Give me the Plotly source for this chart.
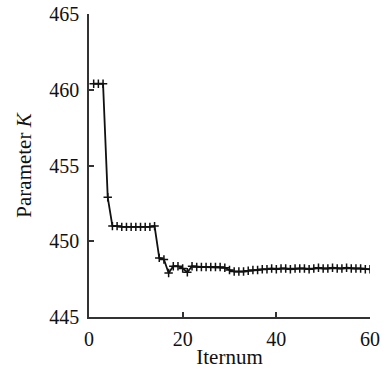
import plotly.graph_objects as go

iternum = list(range(1, 61))
param_k = [
    460.4, 460.4, 460.4, 452.9, 451.0, 451.0, 450.95, 450.95, 450.95, 450.95,
    450.95, 450.95, 450.95, 451.0, 448.9, 448.8, 447.9, 448.35, 448.35, 448.2,
    447.95, 448.35, 448.3, 448.3, 448.3, 448.3, 448.3, 448.3, 448.25, 448.1,
    448.0, 448.0, 448.0, 448.05, 448.1, 448.1, 448.15, 448.15, 448.2, 448.15,
    448.2, 448.2, 448.15, 448.2, 448.2, 448.2, 448.15, 448.2, 448.25, 448.2,
    448.2, 448.25, 448.2, 448.2, 448.25, 448.2, 448.2, 448.2, 448.15, 448.15,
]
x_ticks = [0, 20, 40, 60]
y_ticks = [445, 450, 455, 460, 465]

fam = "Liberation Serif, Times New Roman, serif"
tick_font = dict(family=fam, size=20, color="#111")
title_font = dict(family=fam, size=21, color="#111")

fig = go.Figure(go.Scatter(
    x=iternum, y=param_k, mode="lines+markers",
    line=dict(color="#111", width=1.8),
    marker=dict(symbol="cross-thin", size=6, line=dict(color="#111", width=1.5)),
))

fig.update_layout(
    width=385, height=369,
    margin=dict(l=89, r=15, t=14, b=52),
    paper_bgcolor="white", plot_bgcolor="white",
    showlegend=False, font=tick_font,
)
fig.update_xaxes(
    range=[0, 60], tickvals=x_ticks, ticks="inside", ticklen=5, tickwidth=1.5,
    tickcolor="#333", showline=True, linecolor="#333", linewidth=1.5,
    showgrid=False, zeroline=False, tickfont=tick_font, ticklabelstandoff=3,
    automargin=False,
    title=dict(text="Iternum", font=title_font, standoff=3),
)
fig.update_yaxes(
    range=[445, 465], tickvals=y_ticks, ticks="inside", ticklen=5, tickwidth=1.5,
    tickcolor="#333", showline=True, linecolor="#333", linewidth=1.5,
    showgrid=False, zeroline=False, tickfont=tick_font, ticklabelstandoff=4,
    automargin=False,
    title=dict(text="Parameter <i>K</i>", font=title_font, standoff=12),
)
fig.write_html("out.html")
